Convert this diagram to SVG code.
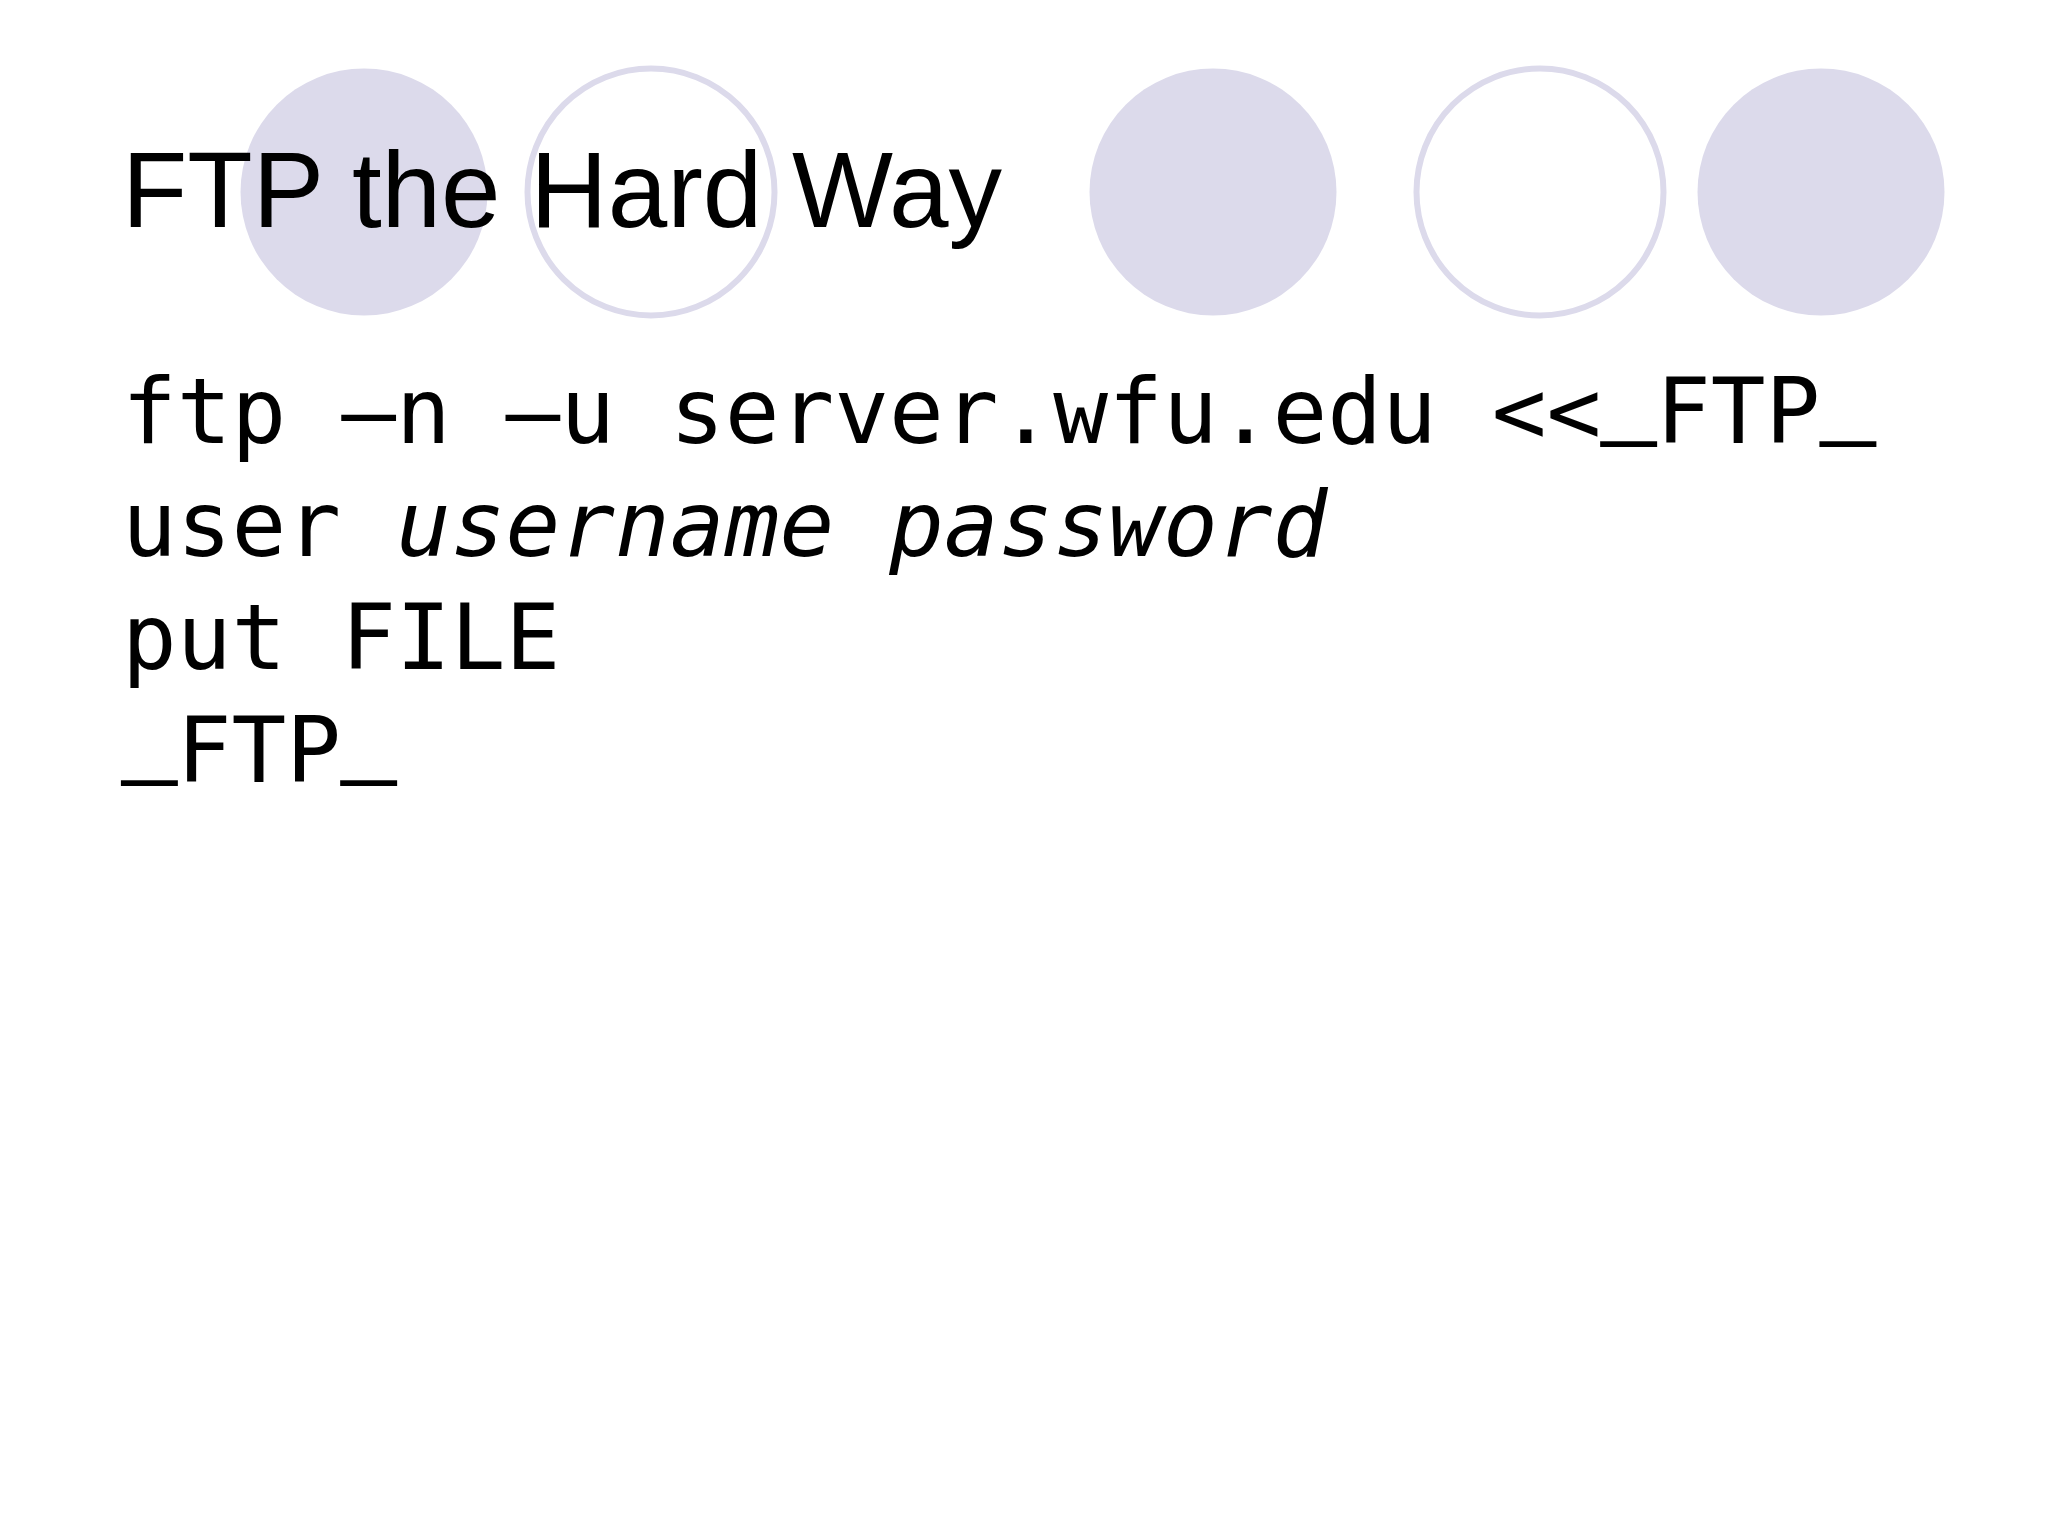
<svg xmlns="http://www.w3.org/2000/svg" width="2048" height="1536" viewBox="0 0 2048 1536">
<style>
.bg{fill:#ffffff}
.dot{fill:#dcdaeb}
.ring{fill:#ffffff;stroke:#dcdaeb;stroke-width:6}
.title{font-family:"Liberation Sans",Arial,sans-serif;font-size:107px;fill:#000000}
.code{font-family:"DejaVu Sans Mono",monospace;font-size:91px;fill:#000000}
.it{font-style:italic}
.us{stroke:#000000;stroke-width:2.2}
</style>
<rect class="bg" x="0" y="0" width="2048" height="1536"/>
<g id="decor">
<circle class="dot" cx="364" cy="192" r="123.5"/>
<circle class="ring" cx="651" cy="192" r="123.5"/>
<circle class="dot" cx="1213" cy="192" r="123.5"/>
<circle class="ring" cx="1540" cy="192" r="123.5"/>
<circle class="dot" cx="1821" cy="192" r="123.5"/>
</g>
<g id="title">
<text class="title" x="122" y="227">FTP the Hard Way</text>
</g>
<g id="body">
<text class="code" x="122" y="443">ftp –n –u server.wfu.edu &lt;&lt;<tspan class="us" dy="-18">_</tspan><tspan dy="18">FTP</tspan><tspan class="us" dy="-18">_</tspan></text>
<text class="code" x="122" y="556">user <tspan class="it">username password</tspan></text>
<text class="code" x="122" y="669">put FILE</text>
<text class="code" x="122" y="782"><tspan class="us" dy="-18">_</tspan><tspan dy="18">FTP</tspan><tspan class="us" dy="-18">_</tspan></text>
</g>
<g id="connectors"/>
</svg>
